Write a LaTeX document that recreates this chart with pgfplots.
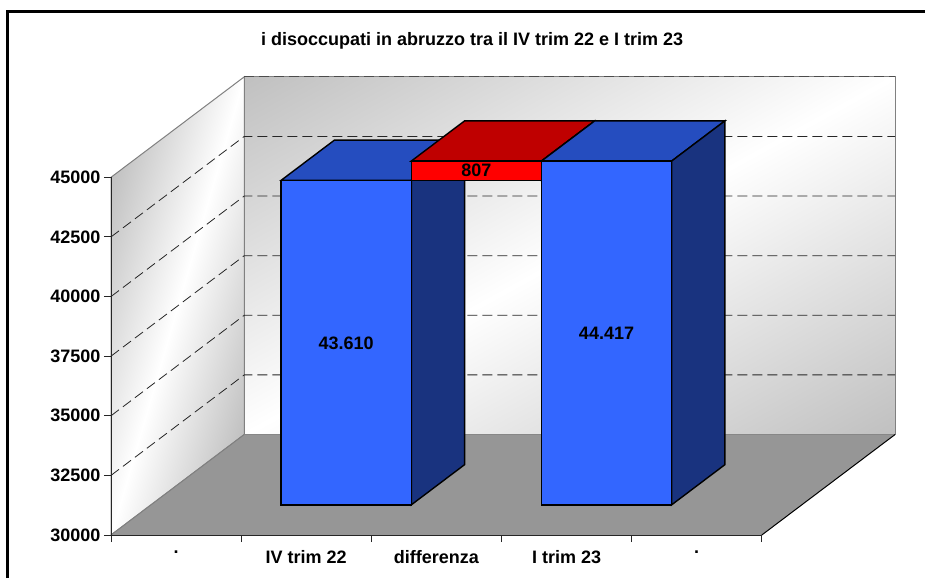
\documentclass[border=0pt]{standalone}
\usepackage{fontspec}
\setmainfont{Liberation Sans}
\usepackage{pgfplots}
\pgfplotsset{compat=1.18}

\definecolor{barfront}{HTML}{3366FF}
\definecolor{bartop}{HTML}{254DBF}
\definecolor{barside}{HTML}{19337F}
\definecolor{difffront}{HTML}{FF0000}
\definecolor{difftop}{HTML}{BF0000}
\definecolor{floorgray}{HTML}{969696}
\definecolor{wallgray}{HTML}{C0C0C0}
\definecolor{edgegray}{HTML}{808080}

% x, y on the front plane, d = depth (0 front, 1 back wall)
\pgfplotsset{
  table/oblique/.style={
    row sep=\\,
    x expr=\thisrow{x}+\thisrow{d}*1.0238,
    y expr=\thisrow{y}+\thisrow{d}*4214,
  },
}

% box: x0, x1, base, value, colours
\newcommand{\drawbox}[7]{
  \addplot[draw=black, line width=1.4pt, fill=#6] table[oblique] {
    x y d\\ #1 #4 0.3\\ #2 #4 0.3\\ #2 #4 0.7\\ #1 #4 0.7\\
  } --cycle;
  \addplot[draw=black, line width=1.4pt, fill=#7] table[oblique] {
    x y d\\ #2 #3 0.3\\ #2 #4 0.3\\ #2 #4 0.7\\ #2 #3 0.7\\
  } --cycle;
  \addplot[draw=black, line width=1.4pt, fill=#5] table[oblique] {
    x y d\\ #1 #3 0.3\\ #2 #3 0.3\\ #2 #4 0.3\\ #1 #4 0.3\\
  } --cycle;
}

\newcommand{\gridline}[1]{
  \addplot[black!85, line width=0.8pt, dash pattern=on 10pt off 5pt] table[oblique] {
    x y d\\ 0 #1 0\\ 0 #1 1\\ 5 #1 1\\
  };
}

\begin{document}
\begin{tikzpicture}[x=1pt, y=1pt]
\path[use as bounding box] (-111,-43) rectangle (814,535);
% frame: only top and left sides show
\draw[black, line width=3pt] (-103,-43) -- (-103,523) -- (814,523);
% back wall, grey - white - grey across its diagonal
\begin{scope}
  \clip (133.3,100.5) rectangle (784,458.2);
  \shade[transform canvas={rotate around={28.8:(458.65,279.35)}},
         top color=wallgray, bottom color=wallgray, middle color=white]
    (-341,-34.15) rectangle (1259,592.85);
\end{scope}
\draw[edgegray, line width=1pt] (133.3,100.5) rectangle (784,458.2);
% side wall
\begin{scope}
  \clip (0,0) -- (133.3,100.5) -- (133.3,458.2) -- (0,357.7) -- cycle;
  \shade[transform canvas={rotate around={73.8:(66.65,229.1)}},
         top color=wallgray, bottom color=wallgray, middle color=white]
    (-433.35,129.2) rectangle (566.65,329);
\end{scope}
\draw[edgegray, line width=1pt] (0,0) -- (133.3,100.5) -- (133.3,458.2) -- (0,357.7) -- cycle;
\begin{axis}[
  at={(0,0)}, anchor=origin,
  scale only axis,
  width=650.8pt, height=357.7pt,
  clip=false,
  axis on top,
  xmin=0, xmax=5,
  ymin=30000, ymax=45000,
  axis x line*=bottom, axis y line*=left,
  axis line style={-, line width=1pt, black!85},
  xtick={0,1,2,3,4,5},
  xticklabels={.,IV trim 22,differenza,I trim 23,.},
  x tick label as interval,
  x tick label style={yshift=-5pt},
  ytick={30000,32500,35000,37500,40000,42500,45000},
  scaled y ticks=false,
  tick align=outside,
  major tick length=7pt,
  tick style={line width=1pt, black!85},
  minor tick num=0,
  /pgf/number format/1000 sep={},
  /pgf/number format/assume math mode=true,
  tick label style={font=\fontsize{18}{20}\selectfont\bfseries},
  title={i disoccupati in abruzzo tra il IV trim 22 e I trim 23},
  title style={at={(0.555,1.389)}, anchor=center, yshift=-9pt, font=\fontsize{18}{20}\selectfont\bfseries},
]
% floor
\addplot[fill=floorgray, draw=none]
  table[oblique] {x y d\\ 0 30000 0\\ 5 30000 0\\ 5 30000 1\\ 0 30000 1\\} --cycle;
\addplot[black, line width=1pt] table[oblique] {x y d\\ 5 30000 0\\ 5 30000 1\\};
\addplot[edgegray, line width=1pt] table[oblique] {x y d\\ 0 30000 0\\ 0 30000 1\\};
% grid
\gridline{32500}
\gridline{35000}
\gridline{37500}
\gridline{40000}
\gridline{42500}
\addplot[black!70, line width=0.8pt, dash pattern=on 10pt off 5pt] table[oblique] {x y d\\ 0 45000 1\\ 5 45000 1\\};
% bars
\drawbox{1}{2}{30000}{43610}{barfront}{bartop}{barside}
\drawbox{2}{3}{43610}{44417}{difffront}{difftop}{difftop}
\drawbox{3}{4}{30000}{44417}{barfront}{bartop}{barside}
% value labels
\node[font=\fontsize{18}{20}\selectfont\bfseries] at (axis cs:1.807,38020) {43.610};
\node[font=\fontsize{18}{20}\selectfont\bfseries] at (axis cs:2.807,45278) {807};
\node[font=\fontsize{18}{20}\selectfont\bfseries] at (axis cs:3.807,38473) {44.417};
\end{axis}
\end{tikzpicture}
\end{document}
